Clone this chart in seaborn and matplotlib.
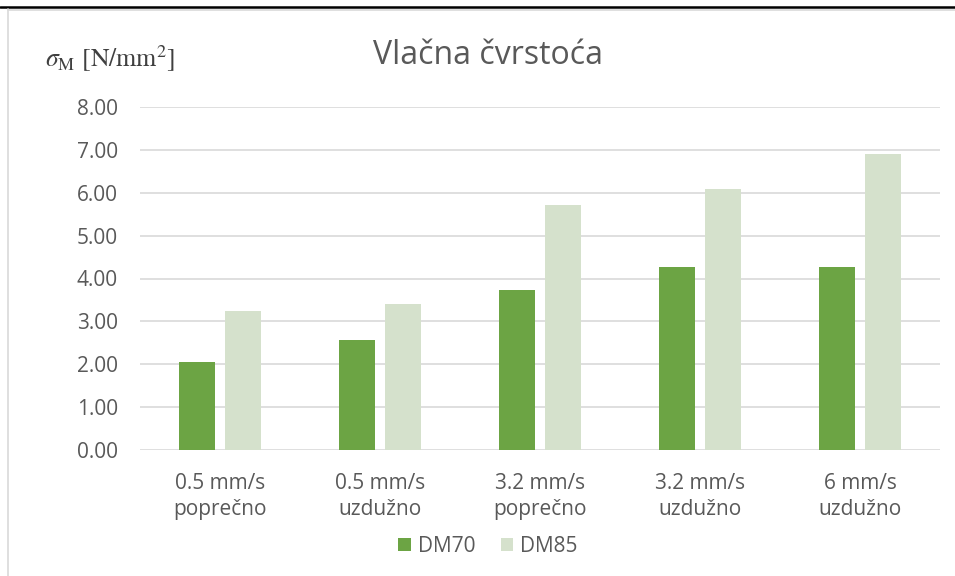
import seaborn as sns
import matplotlib.pyplot as plt
import pandas as pd
from matplotlib.lines import Line2D

# values
categories = ["0.5 mm/s\npoprečno", "0.5 mm/s\nuzdužno", "3.2 mm/s\npoprečno",
              "3.2 mm/s\nuzdužno", "6 mm/s\nuzdužno"]
dm70 = [2.05, 2.56, 3.74, 4.26, 4.27]
dm85 = [3.24, 3.41, 5.72, 6.08, 6.90]
series = ["DM70", "DM85"]
yticks = [0, 1, 2, 3, 4, 5, 6, 7, 8]

df = pd.DataFrame({
    "kategorija": categories * 2,
    "vrijednost": dm70 + dm85,
    "serija": [series[0]] * len(dm70) + [series[1]] * len(dm85),
})

sns.set_theme(style="white")
plt.rcParams["font.family"] = ["Open Sans", "DejaVu Sans"]
plt.rcParams["mathtext.fontset"] = "stix"

text_col = "#595959"
palette = {"DM70": "#6ca444", "DM85": "#d5e1cc"}

fig = plt.figure(figsize=(9.55, 5.76), dpi=100)
ax = fig.add_axes([140 / 955, 1 - 450 / 576, 800 / 955, 343 / 576])

sns.barplot(data=df, x="kategorija", y="vrijednost", hue="serija", palette=palette,
            saturation=1, width=0.575, gap=0.217, linewidth=0, ax=ax, legend=True)

ax.set_ylim(0, 8)
ax.set_xlim(-0.5, len(categories) - 0.5)
ax.set_yticks(yticks)
ax.set_yticklabels([f"{v:.2f}" for v in yticks])
ax.yaxis.grid(True, color="#d9d9d9", linewidth=1.2)
ax.set_axisbelow(True)
for s in ax.spines.values():
    s.set_visible(False)
ax.tick_params(axis="both", length=0, colors=text_col, labelsize=15)
ax.tick_params(axis="y", pad=16)
ax.tick_params(axis="x", pad=16.5)
for lab in ax.get_xticklabels():
    lab.set_linespacing(1.3)
ax.set_xlabel("")
ax.set_ylabel("")

# legend at the bottom
handles, labels = ax.get_legend_handles_labels()
ax.legend(handles, labels, loc="center", bbox_to_anchor=(488 / 955, 1 - 546 / 576),
          bbox_transform=fig.transFigure, ncol=2, frameon=False, fontsize=15,
          handlelength=0.6, handleheight=0.6, handletextpad=0.35, columnspacing=1.2,
          labelcolor=text_col)

# title and unit label
fig.text(488 / 955, 1 - 56 / 576, "Vlačna čvrstoća", ha="center", va="center",
         fontsize=23, color=text_col)
fig.text(45 / 955, 1 - 67 / 576, r"$\sigma_{\mathrm{M}}$ [N/mm$^{2}$]", ha="left",
         va="baseline", fontsize=18.5, color="#404040", family="STIXGeneral")

# frame lines around the chart area
fig.add_artist(Line2D([0, 1], [1 - 7 / 576, 1 - 7 / 576], color="black", linewidth=1.8,
                      transform=fig.transFigure))
fig.add_artist(Line2D([8 / 955, 1], [1 - 9.5 / 576, 1 - 9.5 / 576], color="#d9d9d9",
                      linewidth=1.2, transform=fig.transFigure))
fig.add_artist(Line2D([7.5 / 955, 7.5 / 955], [0, 1 - 9 / 576], color="#d9d9d9",
                      linewidth=1.2, transform=fig.transFigure))

fig.savefig("out.png", dpi=100)
